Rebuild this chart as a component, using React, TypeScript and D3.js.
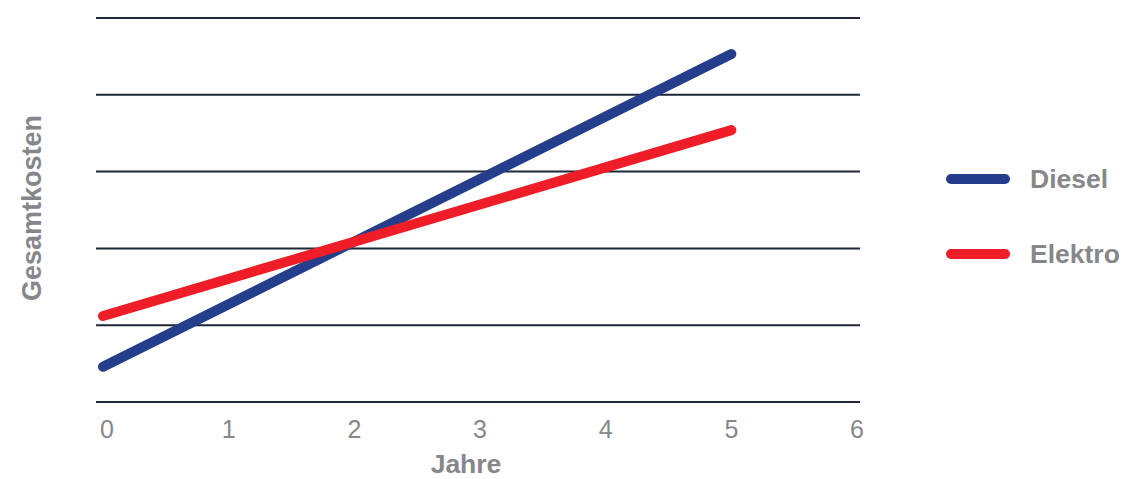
import * as d3 from 'd3';

// Total-cost comparison, values in gridline units (grid has no tick labels)
const years = [0, 5];
const dieselCost = [0.46, 4.53];
const elektroCost = [1.12, 3.54];
const xTicks = [0, 1, 2, 3, 4, 5, 6];
const yGrid = [0, 1, 2, 3, 4, 5];
const seriesNames = ['Diesel', 'Elektro'];
const seriesColors = ['#253e8c', '#ee1d27'];

const W = 1123;
const H = 479;
const FONT = "'Liberation Sans', Arial, Helvetica, sans-serif";
const GRAY = '#87878b';

export default function App() {
  const x = d3.scaleLinear().domain([0, 6]).range([103, 857]);
  const y = d3.scaleLinear().domain([0, 5]).range([402, 18]);

  const line = d3.line<[number, number]>()
    .x((d) => x(d[0]))
    .y((d) => y(d[1]));

  const series = [dieselCost, elektroCost].map((vals) =>
    years.map((yr, i) => [yr, vals[i]] as [number, number])
  );

  return (
    <svg
      width={W}
      height={H}
      style={{ position: 'absolute', left: 0, top: 0, background: '#fff' }}
    >
      {/* grid */}
      {yGrid.map((v) => (
        <line
          key={v}
          x1={96} x2={860}
          y1={y(v)} y2={y(v)}
          stroke="#1d2736"
          strokeWidth={2}
        />
      ))}

      {/* x tick labels */}
      {xTicks.map((t) => (
        <text
          key={t}
          x={x(t) + (t === 0 ? 4 : 0)}
          y={438}
          textAnchor="middle"
          fontFamily={FONT}
          fontSize={25}
          fill={GRAY}
        >
          {t}
        </text>
      ))}

      {/* axis titles */}
      <text x={466} y={473} textAnchor="middle" fontFamily={FONT} fontSize={26.5} fontWeight="bold" fill={GRAY}>
        Jahre
      </text>
      <text
        transform="translate(41,208) rotate(-90)"
        textAnchor="middle"
        fontFamily={FONT}
        fontSize={27}
        fontWeight="bold"
        fill={GRAY}
      >
        Gesamtkosten
      </text>

      {/* lines */}
      {series.map((pts, i) => (
        <path
          key={seriesNames[i]}
          d={line(pts) ?? ''}
          fill="none"
          stroke={seriesColors[i]}
          strokeWidth={10}
          strokeLinecap="round"
        />
      ))}

      {/* legend */}
      {seriesNames.map((name, i) => {
        const ly = 179 + i * 75;
        return (
          <g key={name}>
            <line x1={951} x2={1005} y1={ly} y2={ly} stroke={seriesColors[i]} strokeWidth={10} strokeLinecap="round" />
            <text x={1030} y={ly + 9} fontFamily={FONT} fontSize={26.5} fontWeight="bold" fill={GRAY}>
              {name}
            </text>
          </g>
        );
      })}
    </svg>
  );
}
